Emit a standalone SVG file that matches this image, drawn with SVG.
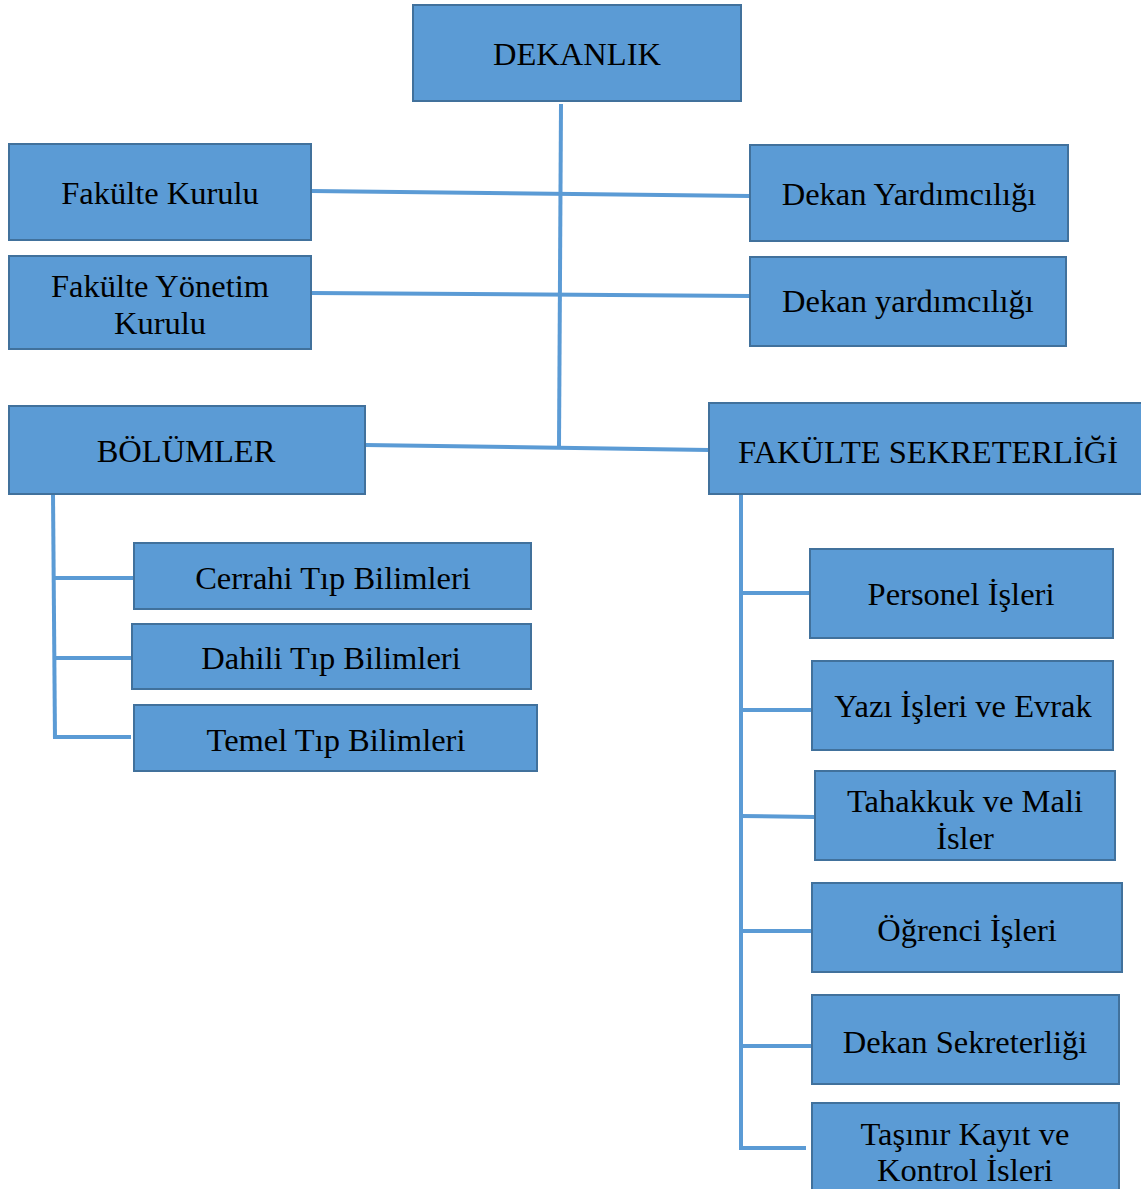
<svg xmlns="http://www.w3.org/2000/svg" width="1141" height="1189" viewBox="0 0 1141 1189">
<style>
.box{fill:#5B9BD5;stroke:#41719C;stroke-width:2}
.t{font-family:"Liberation Serif","Times New Roman",serif;font-size:32.5px;fill:#000;text-anchor:middle}
.c{stroke:#5B9BD5;stroke-width:4;fill:none;stroke-linecap:butt}
</style>
<rect width="1141" height="1189" fill="#fff"/>
<g id="connectors">
<line class="c" x1="561" y1="104" x2="559" y2="447"/>
<line class="c" x1="311" y1="191" x2="750" y2="196"/>
<line class="c" x1="311" y1="293" x2="750" y2="296"/>
<line class="c" x1="365" y1="445" x2="709" y2="450"/>
<line class="c" x1="53" y1="494" x2="55" y2="739"/>
<line class="c" x1="54" y1="578" x2="134" y2="578"/>
<line class="c" x1="55" y1="658" x2="132" y2="658"/>
<line class="c" x1="53" y1="737" x2="131" y2="737"/>
<line class="c" x1="741" y1="494" x2="741" y2="1150"/>
<line class="c" x1="741" y1="593" x2="810" y2="593"/>
<line class="c" x1="741" y1="710" x2="812" y2="710"/>
<line class="c" x1="741" y1="816" x2="815" y2="817"/>
<line class="c" x1="741" y1="931" x2="812" y2="931"/>
<line class="c" x1="741" y1="1046" x2="812" y2="1046"/>
<line class="c" x1="739" y1="1148" x2="806" y2="1148"/>
</g>
<g id="dekanlik"><rect class="box" x="413" y="5" width="328" height="96"/><text class="t" x="577" y="65">DEKANLIK</text></g>
<g id="fakulte-kurulu"><rect class="box" x="9" y="144" width="302" height="96"/><text class="t" x="160" y="204">Fakülte Kurulu</text></g>
<g id="fakulte-yonetim-kurulu"><rect class="box" x="9" y="256" width="302" height="93"/><text class="t" x="160" y="297">Fakülte Yönetim</text><text class="t" x="160" y="334">Kurulu</text></g>
<g id="dekan-yardimciligi-1"><rect class="box" x="750" y="145" width="318" height="96"/><text class="t" x="909" y="205">Dekan Yardımcılığı</text></g>
<g id="dekan-yardimciligi-2"><rect class="box" x="750" y="257" width="316" height="89"/><text class="t" x="908" y="312">Dekan yardımcılığı</text></g>
<g id="bolumler"><rect class="box" x="9" y="406" width="356" height="88"/><text class="t" x="186" y="462">BÖLÜMLER</text></g>
<g id="fakulte-sekreterligi"><rect class="box" x="709" y="403" width="440" height="91"/><text class="t" x="928" y="463">FAKÜLTE SEKRETERLİĞİ</text></g>
<g id="cerrahi"><rect class="box" x="134" y="543" width="397" height="66"/><text class="t" x="333" y="589">Cerrahi Tıp Bilimleri</text></g>
<g id="dahili"><rect class="box" x="132" y="624" width="399" height="65"/><text class="t" x="331" y="669">Dahili Tıp Bilimleri</text></g>
<g id="temel"><rect class="box" x="134" y="705" width="403" height="66"/><text class="t" x="336" y="751">Temel Tıp Bilimleri</text></g>
<g id="personel"><rect class="box" x="810" y="549" width="303" height="89"/><text class="t" x="961" y="605">Personel İşleri</text></g>
<g id="yazi"><rect class="box" x="812" y="661" width="301" height="89"/><text class="t" x="963" y="717">Yazı İşleri ve Evrak</text></g>
<g id="tahakkuk"><rect class="box" x="815" y="771" width="300" height="89"/><text class="t" x="965" y="812">Tahakkuk ve Mali</text><text class="t" x="965" y="849">İsler</text></g>
<g id="ogrenci"><rect class="box" x="812" y="883" width="310" height="89"/><text class="t" x="967" y="941">Öğrenci İşleri</text></g>
<g id="dekan-sekreterligi"><rect class="box" x="812" y="995" width="307" height="89"/><text class="t" x="965" y="1053">Dekan Sekreterliği</text></g>
<g id="tasinir"><rect class="box" x="812" y="1103" width="307" height="100"/><text class="t" x="965" y="1145">Taşınır Kayıt ve</text><text class="t" x="965" y="1181">Kontrol İsleri</text></g>
</svg>
